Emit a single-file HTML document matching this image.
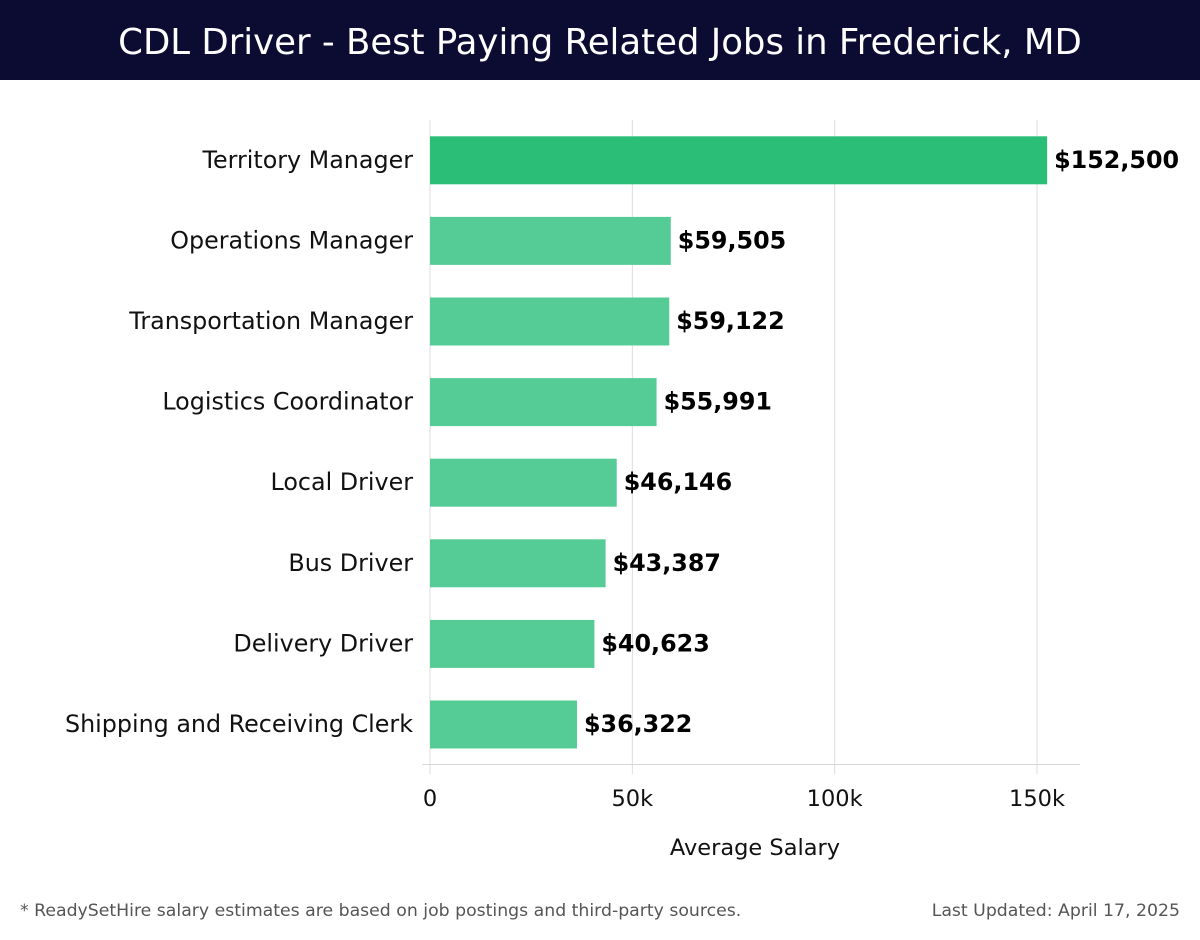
<!DOCTYPE html>
<html><head><meta charset="utf-8"><style>
body{margin:0;background:#fff;width:1200px;height:940px;overflow:hidden;font-family:"DejaVu Sans","Liberation Sans",sans-serif;}
#title{position:absolute;left:0;top:0;width:1200px;height:80px;background:#0c0c33;color:#fff;font-size:35.5px;text-align:center;line-height:86px;}
.foot{position:absolute;top:901px;font-size:17.3px;color:#555;}
</style></head><body>
<div id="title">CDL Driver - Best Paying Related Jobs in Frederick, MD</div>
<svg id="chart" width="1200" height="940" style="position:absolute;left:0;top:0;font-family:'DejaVu Sans','Liberation Sans',sans-serif"></svg>
<div class="foot" style="left:20px">* ReadySetHire salary estimates are based on job postings and third-party sources.</div>
<div class="foot" style="right:20px">Last Updated: April 17, 2025</div>
<script>
const categories=["Territory Manager","Operations Manager","Transportation Manager","Logistics Coordinator","Local Driver","Bus Driver","Delivery Driver","Shipping and Receiving Clerk"];
const values=[152500,59505,59122,55991,46146,43387,40623,36322];
const valueLabels=["$152,500","$59,505","$59,122","$55,991","$46,146","$43,387","$40,623","$36,322"];
const ticks=[0,50000,100000,150000];
const tickLabels=["0","50k","100k","150k"];
const NS="http://www.w3.org/2000/svg";
const svg=document.getElementById('chart');
const x0=430,pxPer=(1037-430)/150000,top0=120,bandH=80.6,barH=48;
const xs=v=>x0+v*pxPer;
const yb=i=>top0+i*bandH+(bandH-barH)/2;
function mk(t,a){const e=document.createElementNS(NS,t);for(const k in a)e.setAttribute(k,a[k]);svg.appendChild(e);return e;}
ticks.forEach((t,i)=>{
  const g=mk('line',{x1:xs(t),x2:xs(t),y1:top0,y2:774,stroke:'#dddddd','stroke-width':1});
  
  
  const tl=mk('text',{x:xs(t),y:806,'text-anchor':'middle','font-size':22.5,fill:'#111'});
  tl.textContent=tickLabels[i];
  
  
});
const ax=mk('line',{x1:422,x2:1080,y1:764.5,y2:764.5,stroke:'#d6d6d6','stroke-width':1});


categories.forEach((c,i)=>{
  const y=yb(i);
  const r=mk('rect',{x:x0,y:y,width:xs(values[i])-x0,height:barH,fill:i===0?'#2bbe77':'#55cc95'});
  
  
  const l=mk('text',{x:413,y:y+barH/2+7.5,'text-anchor':'end','font-size':23.8,fill:'#111'});
  l.textContent=c;
  
  
  const v=mk('text',{x:xs(values[i])+7,y:y+barH/2+7.5,'font-size':23.8,'font-weight':'bold',fill:'#000'});
  v.textContent=valueLabels[i];
  
  
});
const xt=mk('text',{x:755,y:855,'text-anchor':'middle','font-size':22.5,fill:'#111'});
xt.textContent='Average Salary';


</script>
</body></html>
